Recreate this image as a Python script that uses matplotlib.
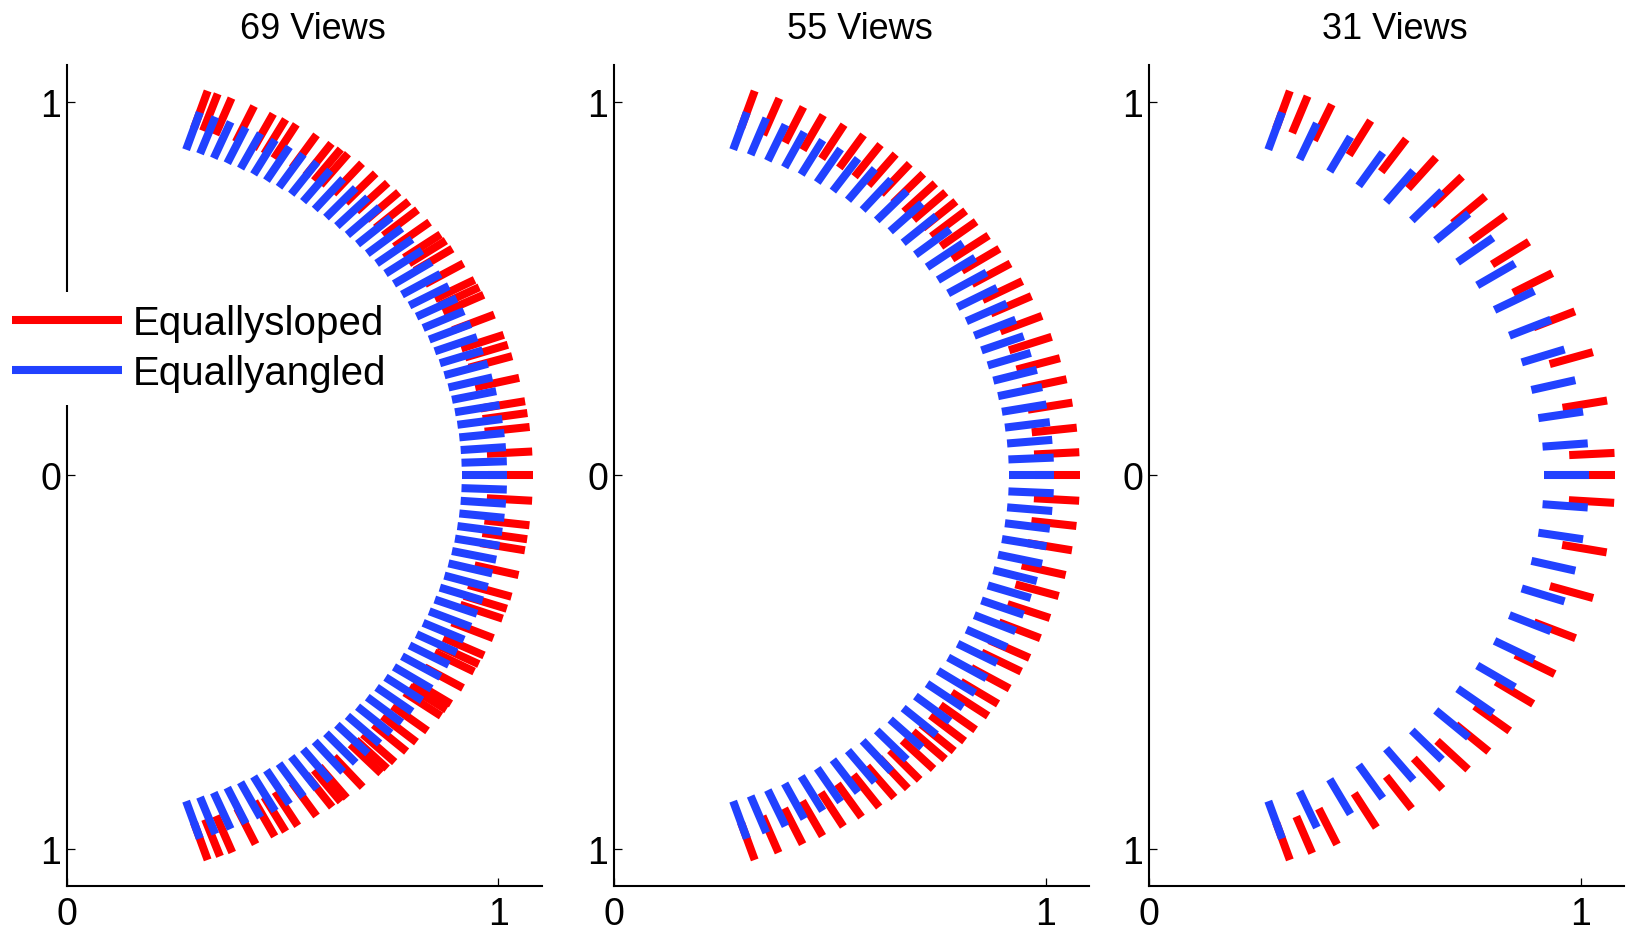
import numpy as np
import matplotlib
matplotlib.use("Agg")
import matplotlib.pyplot as plt

# Angles (degrees), one list per panel and series
TITLES = ["69 Views", "55 Views", "31 Views"]
SERIES_LABELS = ["Equallysloped", "Equallyangled"]

RED_69 = [-72.4, -70.8, -69.2, -66.1, -63.5, -62.0, -60.3, -57.6, -55.3, -54.0,
          -53.1, -50.6, -47.6, -46.6, -45.3, -43.2, -41.4, -39.3, -36.6, -35.5,
          -34.5, -31.8, -29.1, -27.9, -26.5, -23.8, -20.8, -19.3, -17.5, -14.3,
          -10.7, -9.1, -7.1, -3.6, 0.0,
          3.4, 6.9, 8.9, 10.6, 14.0, 17.2, 18.9, 20.4, 23.5, 26.6,
          27.8, 29.0, 31.7, 34.2, 35.6, 36.7, 38.9, 41.2, 42.8, 44.6,
          46.5, 48.5, 50.7, 52.9, 54.0, 55.4, 57.6, 60.5, 62.0, 63.7,
          66.3, 69.3, 71.1, 72.4]
BLUE_69 = [-72.4, -70.27, -68.14, -66.01, -63.88, -61.75, -59.62, -57.49, -55.36, -53.24,
           -51.11, -48.98, -46.85, -44.72, -42.59, -40.46, -38.33, -36.2, -34.07, -31.94,
           -29.81, -27.68, -25.55, -23.42, -21.29, -19.16, -17.04, -14.91, -12.78, -10.65,
           -8.52, -6.39, -4.26, -2.13, 0.0,
           2.13, 4.26, 6.39, 8.52, 10.65, 12.78, 14.91, 17.04, 19.16, 21.29,
           23.42, 25.55, 27.68, 29.81, 31.94, 34.07, 36.2, 38.33, 40.46, 42.59,
           44.72, 46.85, 48.98, 51.11, 53.24, 55.36, 57.49, 59.62, 61.75, 63.88,
           66.01, 68.14, 70.27, 72.4]

RED_55 = [-72.4, -69.3, -66.1, -63.4, -60.5, -57.9, -55.3, -53.0, -50.9, -49.0,
          -46.7, -44.7, -43.1, -41.2, -39.1, -36.6, -34.5, -31.9, -29.1, -26.9,
          -23.8, -20.7, -17.4, -14.3, -10.7, -7.2, -3.6, 0.0,
          3.3, 6.8, 10.4, 13.8, 16.9, 20.1, 23.3, 26.4, 28.8, 31.7,
          34.2, 36.5, 39.0, 41.0, 42.8, 44.6, 46.4, 48.4, 50.6, 52.8,
          55.1, 57.6, 60.4, 63.3, 66.0, 69.2, 72.4]
BLUE_55 = [-72.4, -69.72, -67.04, -64.36, -61.67, -58.99, -56.31, -53.63, -50.95, -48.27,
           -45.59, -42.9, -40.22, -37.54, -34.86, -32.18, -29.5, -26.81, -24.13, -21.45,
           -18.77, -16.09, -13.41, -10.73, -8.04, -5.36, -2.68, 0.0,
           2.68, 5.36, 8.04, 10.73, 13.41, 16.09, 18.77, 21.45, 24.13, 26.81,
           29.5, 32.18, 34.86, 37.54, 40.22, 42.9, 45.59, 48.27, 50.95, 53.63,
           56.31, 58.99, 61.67, 64.36, 67.04, 69.72, 72.4]

RED_31 = [-72.4, -69.5, -66.2, -60.8, -55.7, -51.0, -46.8, -43.2, -39.3, -34.5,
          -29.5, -23.8, -17.7, -11.0, -3.9, 0.0,
          3.2, 10.7, 17.8, 24.0, 30.1, 35.4, 40.1, 43.8, 47.8, 52.0,
          56.5, 61.6, 66.9, 70.1, 72.4]
BLUE_31 = [-72.4, -67.57, -62.75, -57.92, -53.09, -48.27, -43.44, -38.61, -33.79, -28.96,
           -24.13, -19.31, -14.48, -9.65, -4.83, 0.0,
           4.83, 9.65, 14.48, 19.31, 24.13, 28.96, 33.79, 38.61, 43.44, 48.27,
           53.09, 57.92, 62.75, 67.57, 72.4]

Y_TICKS = [-1, 0, 1]
Y_TICK_LABELS = ["1", "0", "1"]
X_TICKS = [0, 1]
X_TICK_LABELS = ["0", "1"]

RED = "#ff0000"
BLUE = "#2141ff"
LW = 5.8


def draw_segments(ax, angles_deg, r_in, r_out, color, label):
    # one short radial segment per view angle
    theta = np.deg2rad(np.asarray(angles_deg))
    for i, t in enumerate(theta):
        ax.plot([r_in * np.cos(t), r_out * np.cos(t)],
                [r_in * np.sin(t), r_out * np.sin(t)],
                color=color, lw=LW, solid_capstyle="butt",
                label=label if i == 0 else None)


def style_axes(ax, title):
    ax.set_xlim(0, 1.1)
    ax.set_ylim(-1.1, 1.1)
    ax.spines["top"].set_visible(False)
    ax.spines["right"].set_visible(False)
    ax.spines["left"].set_linewidth(1.5)
    ax.spines["bottom"].set_linewidth(1.5)
    ax.set_xticks(X_TICKS)
    ax.set_xticklabels(X_TICK_LABELS)
    ax.set_yticks(Y_TICKS)
    ax.set_yticklabels(Y_TICK_LABELS)
    ax.tick_params(direction="in", length=6, width=0.9, labelsize=27)
    ax.tick_params(axis="y", pad=4)
    ax.tick_params(axis="x", pad=7)
    ax.set_title(title, fontsize=26, pad=19, x=0.518)


if __name__ == "__main__":
    plt.rcParams["font.family"] = ["Liberation Sans", "DejaVu Sans"]

    fig = plt.figure(figsize=(16.33, 9.45), dpi=100)
    lefts = [0.0408, 0.3758, 0.7035]
    panels = [(RED_69, BLUE_69), (RED_55, BLUE_55), (RED_31, BLUE_31)]

    axes = []
    for left, title, (red, blue) in zip(lefts, TITLES, panels):
        ax = fig.add_axes([left, 0.0611, 0.2909, 0.8695])
        draw_segments(ax, red, 0.975, 1.08, RED, SERIES_LABELS[0])
        draw_segments(ax, blue, 0.915, 1.02, BLUE, SERIES_LABELS[1])
        style_axes(ax, title)
        axes.append(ax)

    leg = axes[0].legend(loc="center left", bbox_to_anchor=(0.0, 0.6305),
                         bbox_transform=fig.transFigure, fontsize=29,
                         frameon=True, facecolor="white", edgecolor="none",
                         framealpha=1.0, fancybox=False, borderaxespad=0,
                         borderpad=0.31, handlelength=2.73, handletextpad=0.25,
                         labelspacing=0.3)
    leg.set_zorder(10)

    fig.savefig("out.png", dpi=100)
